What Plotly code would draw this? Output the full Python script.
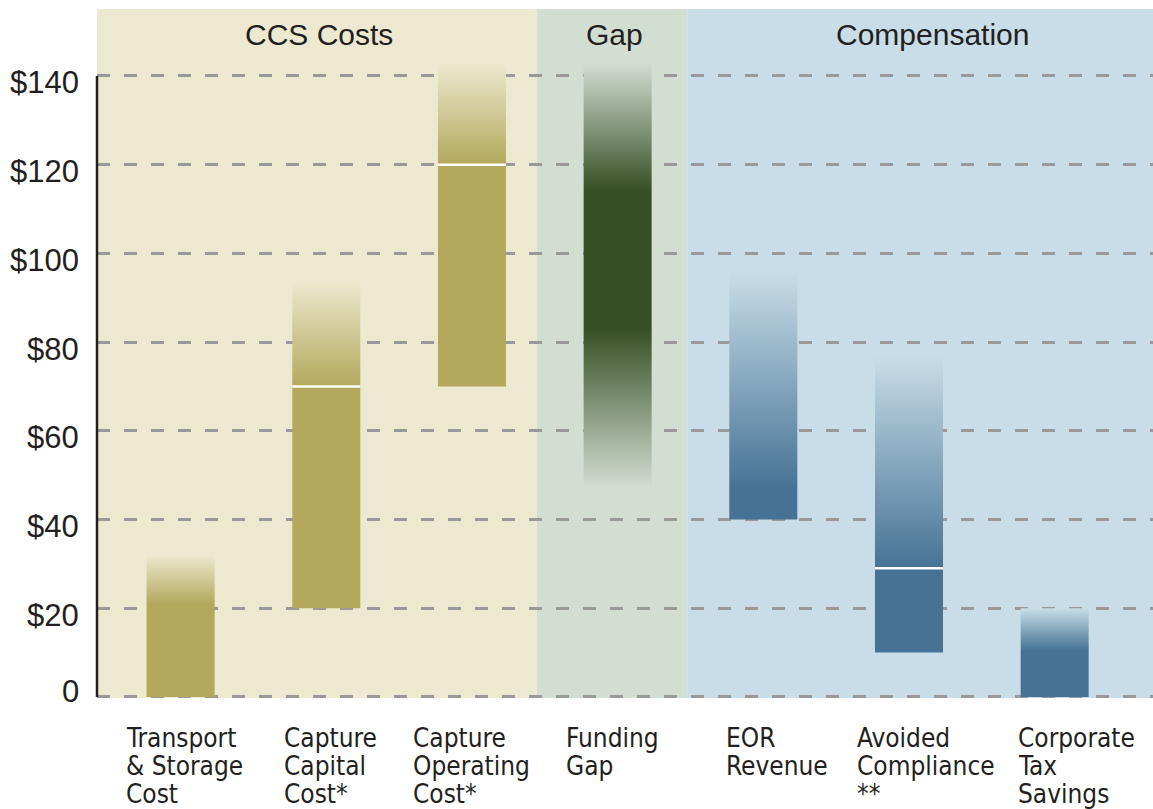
import plotly.graph_objects as go

# ---------------- data ----------------
categories = [
    ["Transport", "& Storage", "Cost"],
    ["Capture", "Capital", "Cost*"],
    ["Capture", "Operating", "Cost*"],
    ["Funding", "Gap"],
    ["EOR", "Revenue"],
    ["Avoided", "Compliance", "**"],
    ["Corporate", "Tax", "Savings"],
]
group = ["CCS Costs", "CCS Costs", "CCS Costs", "Gap",
         "Compensation", "Compensation", "Compensation"]
range_low = [0, 20, 70, 47, 40, 10, 0]          # bottom of faded range
range_high = [32, 94, 143, 143, 96, 77, 20]     # top of faded range
solid_low = [0, 20, 70, 83, 40, 10, 0]          # bottom of solid part
solid_high = [21, 70, 120, 114, 47, 29, 10.5]   # top of solid part
midpoint = [None, 70, 120, None, None, 29, None]

sections = ["CCS Costs", "Gap", "Compensation"]
section_start = [-0.574, 2.447, 3.477]
section_end = [2.447, 3.477, 6.8]
section_label_x = [0.95, 2.975, 5.16]

y_tick_vals = [0, 20, 40, 60, 80, 100, 120, 140]
y_tick_text = ["0", "$20", "$40", "$60", "$80", "$100", "$120", "$140"]

# ---------------- styles ----------------
section_bg = {"CCS Costs": "#EDE9D0", "Gap": "#D3DED3", "Compensation": "#C9DDE8"}
bar_color = {"CCS Costs": "#B3A85C", "Gap": "#374F24", "Compensation": "#467395"}
text_color = "#231F20"
bar_w = 0.467
label_nudge_px = [1, 1, -3, -9, 5, 10, 19]
label_font = "DejaVu Sans Condensed, Liberation Sans Narrow, Arial Narrow, sans-serif"
main_font = "Liberation Sans, Arial, Helvetica, sans-serif"

fig = go.Figure()

# section backgrounds
shapes = []
for name, x0, x1 in zip(sections, section_start, section_end):
    shapes.append(dict(type="rect", xref="x", yref="paper", x0=x0, x1=x1, y0=0, y1=1,
                       fillcolor=section_bg[name], line=dict(width=0), layer="below"))
# y axis line (0 to 140)
shapes.append(dict(type="line", xref="paper", yref="y", x0=0, x1=0,
                   y0=y_tick_vals[0], y1=y_tick_vals[-1],
                   line=dict(color=text_color, width=2.5), layer="above"))

# bars with gradients
for i, (lo, hi, slo, shi, g) in enumerate(zip(range_low, range_high, solid_low, solid_high, group)):
    bg = section_bg[g]
    col = bar_color[g]
    span = hi - lo
    f_lo = (slo - lo) / span
    f_hi = (shi - lo) / span
    cs = []
    if f_lo > 0:
        cs.append([0, bg])
    cs.append([f_lo, col])
    cs.append([f_hi, col])
    cs.append([1, bg])
    x0, x1 = i - bar_w / 2, i + bar_w / 2
    fig.add_trace(go.Scatter(
        x=[x0, x1, x1, x0, x0], y=[lo, lo, hi, hi, lo],
        mode="lines", fill="toself",
        fillgradient=dict(type="vertical", colorscale=cs, start=lo, stop=hi),
        line=dict(width=0), hoverinfo="skip", showlegend=False))

# white midpoint lines
for i, m in enumerate(midpoint):
    if m is None:
        continue
    fig.add_trace(go.Scatter(
        x=[i - bar_w / 2, i + bar_w / 2], y=[m, m], mode="lines",
        line=dict(color="white", width=2.5), hoverinfo="skip", showlegend=False))

annotations = []
# section headers
for name, lx in zip(sections, section_label_x):
    annotations.append(dict(x=lx, xref="x", y=1, yref="paper", yanchor="middle",
                            yshift=-25, text=name, showarrow=False,
                            font=dict(family=main_font, size=30, color=text_color)))
# y tick labels
for v, t in zip(y_tick_vals, y_tick_text):
    annotations.append(dict(x=0, xref="paper", xanchor="right", xshift=-16,
                            y=v, yref="y", yanchor="middle", yshift=(5 if v == 0 else -7),
                            text=t, showarrow=False,
                            font=dict(family=main_font, size=31, color=text_color)))
# category labels (left aligned lines, block centred on the bar)
for i, lines in enumerate(categories):
    max_len = max(len(s) for s in lines)
    for j, s in enumerate(lines):
        annotations.append(dict(x=i, xref="x", xanchor="left",
                                xshift=-max_len * 6.4 + label_nudge_px[i],
                                y=0, yref="paper", yanchor="middle", yshift=-40 - 28 * j,
                                text=s, showarrow=False,
                                font=dict(family=label_font, size=26, color=text_color)))

fig.update_layout(
    width=1153, height=809,
    margin=dict(l=97, r=0, t=9, b=111),
    paper_bgcolor="white", plot_bgcolor="white",
    shapes=shapes, annotations=annotations,
    xaxis=dict(range=[-0.574, 6.675], showgrid=False, zeroline=False,
               showticklabels=False, ticks="", showline=False),
    yaxis=dict(range=[-0.23, 155.1], tickvals=y_tick_vals, showticklabels=False,
               showgrid=True, gridcolor="#999999", gridwidth=2.5, griddash="13px,14px",
               zeroline=False, showline=False, ticks=""),
)

fig.write_html("out.html", config={"displayModeBar": False},
               post_script="document.body.style.margin='0';document.body.style.overflow='hidden';")
